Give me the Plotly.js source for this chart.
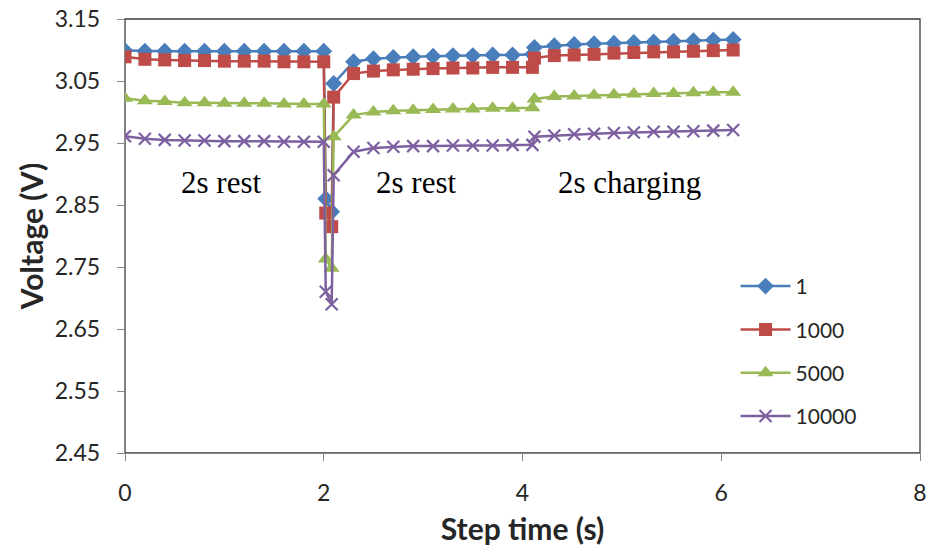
<!DOCTYPE html>
<html>
<head>
<meta charset="utf-8">
<script src="https://cdn.plot.ly/plotly-3.0.1.min.js"></script>
<style>html,body{margin:0;padding:0;background:#fff}#chart{width:933px;height:552px}</style>
</head>
<body>
<div id="chart"></div>
<script>
// Step time (s), shared by all series
const stepTime = [0,0.2,0.4,0.6,0.8,1.0,1.2,1.4,1.6,1.8,2.0,
  2.02,2.08,
  2.1,2.3,2.5,2.7,2.9,3.1,3.3,3.5,3.7,3.9,4.1,
  4.12,4.32,4.52,4.72,4.92,5.12,5.32,5.52,5.72,5.92,6.12];

const seriesNames = ["1","1000","5000","10000"];

const v1 = [3.099,3.098,3.098,3.098,3.098,3.098,3.098,3.098,3.098,3.098,3.098,
  2.860,2.839,
  3.046,3.081,3.086,3.088,3.089,3.090,3.091,3.091,3.092,3.092,3.093,
  3.104,3.107,3.109,3.110,3.111,3.112,3.113,3.114,3.115,3.116,3.117];

const v1000 = [3.089,3.085,3.084,3.083,3.083,3.082,3.082,3.082,3.081,3.081,3.081,
  2.837,2.815,
  3.024,3.062,3.066,3.068,3.069,3.070,3.071,3.071,3.072,3.072,3.072,
  3.087,3.091,3.092,3.093,3.095,3.096,3.097,3.097,3.098,3.099,3.100];

const v5000 = [3.022,3.018,3.017,3.015,3.015,3.014,3.014,3.014,3.013,3.013,3.013,
  2.763,2.748,
  2.960,2.995,3.000,3.002,3.003,3.004,3.005,3.005,3.006,3.006,3.007,
  3.021,3.025,3.026,3.027,3.028,3.029,3.030,3.030,3.031,3.032,3.032];

const v10000 = [2.961,2.957,2.955,2.954,2.954,2.953,2.953,2.953,2.952,2.952,2.952,
  2.710,2.690,
  2.898,2.936,2.942,2.944,2.945,2.945,2.946,2.946,2.946,2.947,2.947,
  2.960,2.962,2.964,2.965,2.966,2.967,2.968,2.968,2.969,2.970,2.971];

const phaseLabels = ["2s rest","2s rest","2s charging"];
const phaseX = [0.97, 2.93, 5.08];
const phaseY = [2.887, 2.887, 2.887];

const colors = ["#4A7EBB","#BE4B48","#98B954","#7D60A0"];
const symbols = ["diamond","square","triangle-up","x-thin"];
const sizes = [13, 13, 14, 12];
const values = [v1, v1000, v5000, v10000];

const traces = values.map((v, i) => ({
  x: stepTime, y: v, name: seriesNames[i], type: "scatter", mode: "lines+markers",
  legendgroup: "g" + i,
  line: {color: colors[i], width: 2.5},
  marker: {symbol: symbols[i], size: sizes[i], color: colors[i],
    line: {color: colors[i], width: i === 3 ? 2.2 : 0}}
}));

const annotations = phaseLabels.map((t, i) => ({
  x: phaseX[i], y: phaseY[i], xref: "x", yref: "y", text: t, showarrow: false,
  font: {family: "Liberation Serif, Times New Roman, serif", size: 31, color: "#000"}
}));

const tickFont = {family: "Lato, Open Sans, sans-serif", size: 23, color: "#262626"};
const titleFont = {family: "Lato, Open Sans, sans-serif", size: 30, color: "#262626"};

const layout = {
  width: 933, height: 552,
  margin: {l: 125, r: 13, t: 19, b: 99},
  paper_bgcolor: "#fff", plot_bgcolor: "#fff",
  showlegend: true,
  legend: {x: 0.768, y: 0.431, xanchor: "left", yanchor: "top",
    font: {family: "Lato, Open Sans, sans-serif", size: 21, color: "#262626"},
    tracegroupgap: 13, itemwidth: 50, bgcolor: "rgba(0,0,0,0)"},
  xaxis: {range: [0, 8], dtick: 2, tick0: 0, showgrid: false, zeroline: false,
    showline: true, linecolor: "#868686", linewidth: 1.3,
    ticks: "outside", ticklen: 7, tickcolor: "#868686", tickfont: tickFont,
    ticklabelstandoff: 12,
    title: {text: "<b>Step time (s)</b>", font: titleFont, standoff: 14}},
  yaxis: {range: [2.45, 3.15], dtick: 0.1, tick0: 2.45, tickformat: ".2f", showgrid: false, zeroline: false,
    showline: true, linecolor: "#868686", linewidth: 1.3,
    ticks: "outside", ticklen: 7, tickcolor: "#868686", tickfont: tickFont,
    ticklabelstandoff: 12,
    title: {text: "<b>Voltage (V)</b>", font: titleFont, standoff: 2}},
  shapes: [{type: "rect", xref: "paper", yref: "paper", x0: 0, x1: 1, y0: 0, y1: 1,
    line: {color: "#3a3a3a", width: 1.3}, layer: "below"}],
  annotations: annotations
};

Plotly.newPlot("chart", traces, layout, {displayModeBar: false, staticPlot: true});
</script>
</body>
</html>
